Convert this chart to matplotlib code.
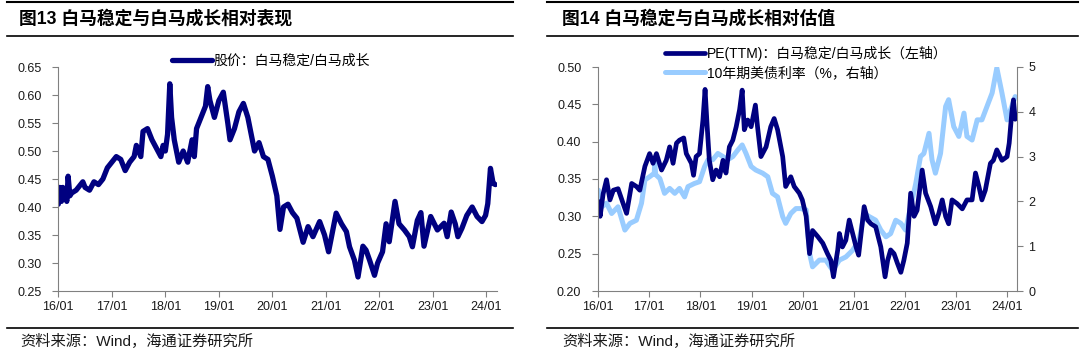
import matplotlib
matplotlib.use("Agg")
import matplotlib.pyplot as plt
from matplotlib.lines import Line2D
import numpy as np

# ---------------- data (x = months since 2016-01) ----------------
tick_pos = [0, 12, 24, 36, 48, 60, 72, 84, 96]
tick_labels = ["16/01", "17/01", "18/01", "19/01", "20/01", "21/01", "22/01", "23/01", "24/01"]

# Fig 13: price ratio 白马稳定/白马成长
price_m = [0.0, 0.3, 0.7, 1.0, 1.5, 1.9, 2.2, 2.6, 3.0, 4.0, 5.0, 5.5, 6.0, 7.0, 8.0, 9.0,
           10.0, 11.0, 12.0, 13.0, 14.0, 15.0, 16.0, 17.0, 17.5, 18.5, 19.0, 20.0, 21.0,
           22.0, 23.0, 23.5, 24.0, 24.5, 25.0, 25.4, 26.0, 27.0, 28.0, 29.0, 30.0, 30.5,
           31.0, 32.0, 33.0, 33.5, 34.0, 35.0, 36.0, 37.0, 38.0, 38.5, 39.5, 40.5, 41.5,
           42.5, 43.0, 44.0, 45.0, 46.0, 47.0, 48.0, 49.0, 49.7, 50.5, 51.5, 52.5, 53.5,
           54.9, 56.0, 57.1, 58.6, 59.7, 60.6, 62.3, 63.5, 64.6, 65.3, 66.4, 67.2, 68.3,
           69.0, 69.8, 70.9, 71.6, 72.7, 73.5, 74.2, 75.5, 76.4, 77.6, 78.7, 79.4, 80.5,
           81.3, 82.0, 83.5, 85.0, 86.5, 87.2, 88.1, 89.0, 89.6, 90.5, 91.6, 92.8, 93.9,
           95.0, 95.8, 96.3, 96.9, 97.5, 98.0]
price_v = [0.405, 0.435, 0.41, 0.435, 0.43, 0.41, 0.455, 0.42, 0.425, 0.43, 0.44, 0.445,
           0.435, 0.43, 0.445, 0.44, 0.45, 0.47, 0.48, 0.49, 0.485, 0.465, 0.48, 0.49,
           0.51, 0.49, 0.535, 0.54, 0.52, 0.505, 0.49, 0.51, 0.50, 0.53, 0.62, 0.56, 0.52,
           0.48, 0.50, 0.48, 0.52, 0.49, 0.54, 0.56, 0.58, 0.615, 0.59, 0.56, 0.59, 0.605,
           0.55, 0.52, 0.54, 0.57, 0.585, 0.56, 0.54, 0.50, 0.515, 0.49, 0.485, 0.455,
           0.42, 0.36, 0.40, 0.405, 0.39, 0.38, 0.337, 0.365, 0.347, 0.374, 0.35, 0.32,
           0.389, 0.37, 0.356, 0.329, 0.305, 0.275, 0.33, 0.323, 0.305, 0.278, 0.30, 0.32,
           0.37, 0.338, 0.41, 0.37, 0.359, 0.347, 0.329, 0.376, 0.39, 0.33, 0.383, 0.359,
           0.371, 0.347, 0.391, 0.37, 0.347, 0.362, 0.385, 0.40, 0.383, 0.374, 0.385,
           0.406, 0.469, 0.442, 0.44]

# Fig 14: PE(TTM) ratio (left axis)
pe_m = [0.1, 0.5, 1.2, 2.0, 2.8, 3.6, 4.7, 5.9, 6.7, 7.9, 9.0, 9.8, 11.0, 12.1, 12.9, 13.7,
        14.9, 16.0, 16.8, 17.6, 18.4, 19.1, 20.1, 20.7, 21.9, 22.4, 23.0, 23.8, 24.6, 25.1,
        25.6, 26.1, 26.9, 27.7, 28.5, 29.3, 30.0, 30.8, 31.6, 32.4, 33.2, 33.8, 34.3, 35.1,
        35.9, 36.9, 37.4, 38.2, 39.4, 40.5, 41.3, 42.1, 43.3, 44.0, 45.2, 46.0, 47.2, 47.9,
        48.8, 49.6, 50.3, 51.5, 52.7, 53.8, 54.6, 55.2, 56.2, 56.6, 57.3, 58.1, 58.9, 59.7,
        60.5, 61.1, 61.6, 62.4, 63.2, 64.0, 65.1, 66.3, 67.3, 67.9, 68.6, 69.4, 70.2, 71.0,
        71.7, 72.5, 73.3, 74.1, 74.8, 76.0, 76.8, 78.0, 79.1, 79.9, 80.7, 81.5, 82.2, 83.0,
        84.2, 85.4, 86.5, 87.7, 88.5, 89.3, 90.0, 90.8, 92.0, 92.7, 93.5, 94.7, 95.9, 96.4,
        97.0, 97.4, 97.8, 98.2]
pe_v = [0.32, 0.30, 0.33, 0.349, 0.322, 0.335, 0.337, 0.317, 0.304, 0.344, 0.34, 0.335,
        0.367, 0.384, 0.371, 0.384, 0.362, 0.375, 0.393, 0.371, 0.398, 0.402, 0.405, 0.384,
        0.371, 0.355, 0.38, 0.384, 0.429, 0.47, 0.42, 0.375, 0.349, 0.362, 0.353, 0.375,
        0.358, 0.393, 0.402, 0.42, 0.443, 0.469, 0.416, 0.429, 0.42, 0.449, 0.42, 0.38,
        0.393, 0.42, 0.431, 0.416, 0.38, 0.34, 0.353, 0.34, 0.331, 0.322, 0.30, 0.25,
        0.281, 0.273, 0.264, 0.25, 0.241, 0.219, 0.255, 0.277, 0.259, 0.268, 0.295, 0.277,
        0.259, 0.248, 0.273, 0.313, 0.295, 0.29, 0.286, 0.259, 0.219, 0.241, 0.255, 0.25,
        0.237, 0.225, 0.241, 0.264, 0.331, 0.30, 0.308, 0.362, 0.331, 0.313, 0.29, 0.304,
        0.322, 0.30, 0.29, 0.322, 0.317, 0.31, 0.322, 0.322, 0.358, 0.34, 0.322, 0.335,
        0.371, 0.375, 0.389, 0.375, 0.38, 0.398, 0.438, 0.456, 0.43, 0.434]

# Fig 14: US 10Y treasury yield, % (right axis)
ust_m = [0.1, 0.9, 2.0, 3.2, 4.7, 6.3, 7.5, 9.0, 10.2, 11.0, 12.1, 13.2, 13.3, 13.5, 14.5,
         15.6, 16.8, 18.0, 19.1, 20.3, 21.1, 22.6, 23.8, 25.0, 25.8, 26.9, 28.1, 29.3, 30.4,
         31.6, 32.8, 33.8, 34.7, 35.9, 37.0, 38.6, 39.8, 40.9, 42.1, 43.3, 44.0, 45.2, 46.4,
         47.5, 48.8, 49.6, 50.3, 51.9, 53.4, 55.0, 56.6, 58.1, 59.7, 61.2, 62.4, 63.6, 65.1,
         66.3, 67.5, 68.6, 69.8, 71.0, 72.1, 73.3, 74.5, 75.6, 76.4, 77.6, 78.3, 79.1, 80.3,
         81.5, 82.2, 83.4, 84.6, 85.8, 86.5, 87.7, 88.9, 90.0, 91.2, 92.4, 93.5, 94.7, 95.9,
         97.0, 97.8]
ust_v = [2.25, 1.88, 1.96, 1.73, 1.88, 1.36, 1.51, 1.58, 1.96, 2.48, 2.55, 2.63, 2.93, 2.6,
         2.51, 2.18, 2.29, 2.18, 2.29, 2.1, 2.33, 2.4, 2.44, 2.78, 2.93, 2.93, 3.07, 3.0,
         2.93, 3.0, 3.15, 3.26, 3.07, 2.78, 2.7, 2.63, 2.55, 2.18, 2.1, 1.66, 1.51, 1.73,
         1.84, 1.84, 1.81, 0.84, 0.54, 0.69, 0.69, 0.46, 0.69, 0.76, 0.91, 1.13, 1.73, 1.66,
         1.58, 1.36, 1.21, 1.28, 1.58, 1.51, 1.36, 1.88, 2.4, 3.0, 3.07, 3.52, 2.93, 2.63,
         3.07, 4.12, 4.27, 3.67, 3.45, 3.97, 3.45, 3.37, 3.82, 3.82, 4.12, 4.42, 4.98, 4.42,
         3.82, 4.12, 4.34]

# ---------------- styling ----------------
DARK = "#000080"
LIGHT = "#99CCFF"
AXC = "#808080"
TXT = "#1a1a1a"
CJK = ["Liberation Sans", "Noto Sans CJK SC"]
plt.rcParams["font.family"] = CJK

W, H = 1080, 352
fig = plt.figure(figsize=(W / 100, H / 100), dpi=100)


def fx(px):
    return px / W


def fy(py):
    return 1 - py / H


def hline(x0, x1, y, lw=1.2):
    fig.add_artist(Line2D([fx(x0), fx(x1)], [fy(y), fy(y)], color="black", lw=lw,
                          transform=fig.transFigure))


def style_axis(ax):
    for s in ["top", "right"]:
        ax.spines[s].set_visible(False)
    ax.spines["left"].set_color(AXC)
    ax.spines["bottom"].set_color(AXC)
    ax.tick_params(axis="both", direction="out", length=4, width=0.8, color=AXC,
                   labelsize=9, labelcolor=TXT)
    ax.tick_params(axis="y", pad=8)
    ax.tick_params(axis="x", pad=3)
    ax.set_xticks(tick_pos)
    ax.set_xticklabels(tick_labels)
    ax.set_xlim(0, 98.3)


# ---------------- left panel ----------------
axL = fig.add_axes([fx(58.3), fy(291), fx(496.7 - 58.3), (291 - 67) / H])
axL.plot(price_m, price_v, color=DARK, lw=3.8, solid_joinstyle="round",
         solid_capstyle="round", label="股价：白马稳定/白马成长")
axL.set_ylim(0.25, 0.65)
axL.set_yticks(np.arange(0.25, 0.651, 0.05))
axL.set_yticklabels([f"{v:.2f}" for v in np.arange(0.25, 0.651, 0.05)])
style_axis(axL)
axL.legend(loc="center left", bbox_to_anchor=(fx(172), fy(60.7)),
           bbox_transform=fig.transFigure, frameon=False, fontsize=10,
           handlelength=2.9, handletextpad=0.1, borderpad=0, borderaxespad=0)

# ---------------- right panel ----------------
axR = fig.add_axes([fx(598), fy(291), fx(1017.3 - 598), (291 - 67) / H])
axR2 = axR.twinx()
l2, = axR2.plot(ust_m, ust_v, color=LIGHT, lw=3.6, solid_joinstyle="round",
                solid_capstyle="round", label="10年期美债利率（%，右轴）")
l1, = axR.plot(pe_m, pe_v, color=DARK, lw=3.4, solid_joinstyle="round",
               solid_capstyle="round", label="PE(TTM)：白马稳定/白马成长（左轴）")
axR.set_zorder(axR2.get_zorder() + 1)
axR.patch.set_visible(False)
axR.set_ylim(0.20, 0.50)
axR.set_yticks(np.arange(0.20, 0.501, 0.05))
axR.set_yticklabels([f"{v:.2f}" for v in np.arange(0.20, 0.501, 0.05)])
style_axis(axR)
axR2.set_ylim(0, 5)
axR2.set_yticks([0, 1, 2, 3, 4, 5])
for s in ["top", "left", "bottom"]:
    axR2.spines[s].set_visible(False)
axR2.spines["right"].set_color(AXC)
axR2.tick_params(axis="y", direction="out", length=4, width=0.8, color=AXC,
                 labelsize=9, labelcolor=TXT, pad=4)
axR.legend(handles=[l1, l2], loc="center left", bbox_to_anchor=(fx(665), fy(63)),
           bbox_transform=fig.transFigure, frameon=False, fontsize=10,
           handlelength=2.9, handletextpad=0.1, borderpad=0, borderaxespad=0,
           labelspacing=0.35)

# ---------------- titles, rules, sources ----------------
hline(7, 513, 1.5, lw=1.5)
hline(547, 1078, 1.5, lw=1.5)
hline(7, 513, 36, lw=1.2)
hline(547, 1078, 36, lw=1.2)
hline(7, 513, 328, lw=1.2)
hline(547, 1078, 328, lw=1.2)

fig.text(fx(19), fy(19), "图13 白马稳定与白马成长相对表现", fontsize=12.8, fontweight="bold",
         va="center", ha="left", color="black")
fig.text(fx(562), fy(19), "图14 白马稳定与白马成长相对估值", fontsize=12.8, fontweight="bold",
         va="center", ha="left", color="black")
fig.text(fx(20), fy(341), "资料来源：Wind，海通证券研究所", fontsize=11, va="center",
         ha="left", color=TXT)
fig.text(fx(562), fy(341), "资料来源：Wind，海通证券研究所", fontsize=11, va="center",
         ha="left", color=TXT)

fig.savefig("out.png", dpi=100)
